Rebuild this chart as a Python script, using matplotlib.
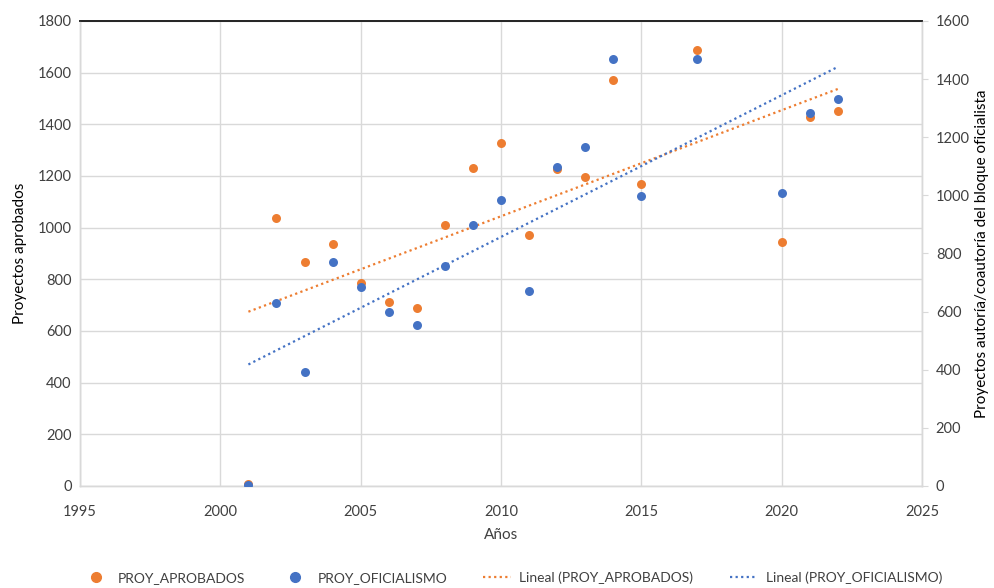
import numpy as np
import matplotlib.pyplot as plt
from matplotlib.lines import Line2D

plt.rcParams['font.family'] = ['Lato', 'DejaVu Sans']

# data
years = [2001, 2002, 2003, 2004, 2005, 2006, 2007, 2008, 2009, 2010,
         2011, 2012, 2013, 2014, 2015, 2017, 2020, 2021, 2022]
proy_aprobados = [8, 1036, 868, 937, 785, 713, 688, 1010, 1230, 1327,
                  972, 1227, 1195, 1570, 1168, 1688, 943, 1430, 1453]
proy_oficialismo = [3, 629, 393, 770, 686, 600, 554, 757, 898, 984,
                    672, 1099, 1167, 1468, 999, 1468, 1007, 1284, 1330]

orange = '#ED7D31'
blue = '#4472C4'
grid_c = '#D9D9D9'
text_c = '#404040'

fig = plt.figure(figsize=(9.94, 5.88), dpi=100)
ax = fig.add_axes([0.0805, 0.1735, 0.847, 0.7908])
ax2 = ax.twinx()

x = np.array(years)
ax.scatter(x, proy_aprobados, s=42, color=orange, zorder=3, linewidths=0)
ax2.scatter(x, proy_oficialismo, s=42, color=blue, zorder=3, linewidths=0)

# linear trendlines like Excel
xs = np.array([x.min(), x.max()])
p1 = np.polyfit(x, proy_aprobados, 1)
p2 = np.polyfit(x, proy_oficialismo, 1)
ax.plot(xs, np.polyval(p1, xs), color=orange, ls=(0, (1, 1.5)), lw=1.6, zorder=2)
ax2.plot(xs, np.polyval(p2, xs), color=blue, ls=(0, (1, 1.5)), lw=1.6, zorder=2)

ax.set_xlim(1995, 2025)
ax.set_ylim(0, 1800)
ax2.set_ylim(0, 1600)
ax.set_xticks(range(1995, 2026, 5))
ax.set_yticks(range(0, 1801, 200))
ax2.set_yticks(range(0, 1601, 200))

ax.grid(True, color=grid_c, lw=1)
ax.set_axisbelow(True)

for a in (ax, ax2):
    for s in ('left', 'right', 'bottom'):
        a.spines[s].set_color(grid_c)
        a.spines[s].set_linewidth(1)
    a.spines['top'].set_color('#262626')
    a.spines['top'].set_linewidth(1.3)
    a.tick_params(labelsize=10.5, colors=text_c)

ax.tick_params(axis='y', length=0, pad=6)
ax.tick_params(axis='x', length=0, pad=14)
ax2.tick_params(axis='y', length=4, color=grid_c, pad=6)

ax.set_xlabel('Años', fontsize=11, color=text_c, labelpad=6)
ax.set_ylabel('Proyectos aprobados', fontsize=11, color='black', labelpad=8)
ax2.set_ylabel('Proyectos autoría/coautoría del bloque oficialista', fontsize=11,
               color='black', labelpad=4)

handles = [
    Line2D([], [], ls='none', marker='o', ms=7, color=orange),
    Line2D([], [], ls='none', marker='o', ms=7, color=blue),
    Line2D([], [], ls=(0, (1, 1.5)), lw=1.6, color=orange),
    Line2D([], [], ls=(0, (1, 1.5)), lw=1.6, color=blue),
]
labels = ['PROY_APROBADOS', 'PROY_OFICIALISMO',
          'Lineal (PROY_APROBADOS)', 'Lineal (PROY_OFICIALISMO)']
fig.legend(handles, labels, loc='center', bbox_to_anchor=(0.515, 0.017), ncol=4,
           frameon=False, fontsize=10, labelcolor=text_c, handlelength=2.0,
           columnspacing=2.6, handletextpad=0.6)

fig.savefig('out.png', dpi=100)
